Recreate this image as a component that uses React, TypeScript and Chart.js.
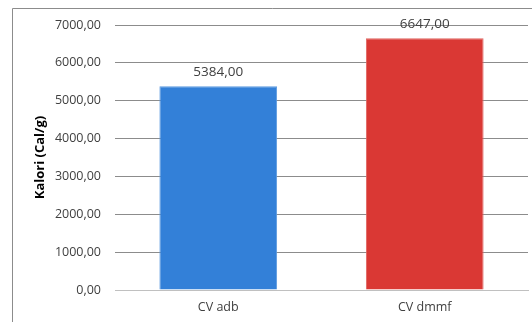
import React, { useEffect, useRef } from "react";
import { Chart, registerables } from "chart.js";

Chart.register(...registerables);

const categories = ["CV adb", "CV dmmf"];
const values = [5384, 6647];
const barColors = ["#3380D8", "#DA3834"];
const barBorders = ["#5C9AE0", "#E06561"];
const yTitle = "Kalori (Cal/g)";

const fmt = (v: number) => v.toFixed(2).replace(".", ",");

const framePlugin = {
  id: "frame",
  beforeDraw(chart: any) {
    const ctx = chart.ctx;
    ctx.save();
    ctx.fillStyle = "#ffffff";
    ctx.fillRect(0, 0, chart.width, chart.height);
    ctx.strokeStyle = "#8c8c8c";
    ctx.lineWidth = 1;
    ctx.beginPath();
    ctx.moveTo(12.5, chart.height);
    ctx.lineTo(12.5, 8.5);
    ctx.lineTo(chart.width, 8.5);
    ctx.stroke();
    ctx.restore();
  },
  afterDatasetsDraw(chart: any) {
    const ctx = chart.ctx;
    const meta = chart.getDatasetMeta(0);
    ctx.save();
    ctx.font = "13.5px 'Open Sans'";
    ctx.fillStyle = "#404040";
    ctx.textAlign = "center";
    ctx.textBaseline = "middle";
    meta.data.forEach((el: any, i: number) => {
      ctx.fillText(fmt(values[i]), el.x, el.y - 14);
    });
    ctx.restore();
  },
};

export default function App() {
  const ref = useRef<HTMLCanvasElement>(null);
  useEffect(() => {
    document.body.style.margin = "0";
    const chart = new Chart(ref.current!, {
      type: "bar",
      data: {
        labels: categories,
        datasets: [
          {
            data: values,
            backgroundColor: barColors,
            borderColor: barBorders,
            borderWidth: 1,
            barPercentage: 0.57,
            categoryPercentage: 1,
          },
        ],
      },
      plugins: [framePlugin],
      options: {
        animation: false,
        responsive: false,
        devicePixelRatio: 1,
        layout: { padding: { left: 12, top: 25, right: 4, bottom: 0 } },
        plugins: { legend: { display: false }, tooltip: { enabled: false } },
        scales: {
          x: {
            grid: { display: false, drawTicks: false },
            border: { display: true, color: "#c0c0c0", width: 1 },
            ticks: { color: "#404040", font: { family: "'Open Sans'", size: 12.5 }, padding: 10 },
            afterFit(scale: any) {
              scale.height = 32;
            },
          },
          y: {
            min: 0,
            max: 7000,
            ticks: {
              stepSize: 1000,
              color: "#404040",
              padding: 14,
              font: { family: "'Open Sans'", size: 12.5 },
              callback: (v: any) => fmt(Number(v)),
            },
            grid: { color: "#8c8c8c", drawTicks: false },
            border: { display: false },
            title: {
              display: true,
              text: yTitle,
              color: "#000000",
              font: { family: "'Open Sans'", size: 13, weight: "bold" },
              padding: { top: 20, bottom: 0 },
            },
            afterFit(scale: any) {
              scale.width = 103;
            },
          },
        },
      },
    } as any);
    return () => chart.destroy();
  }, []);
  return <canvas ref={ref} width={532} height={322} style={{ display: "block" }} />;
}
